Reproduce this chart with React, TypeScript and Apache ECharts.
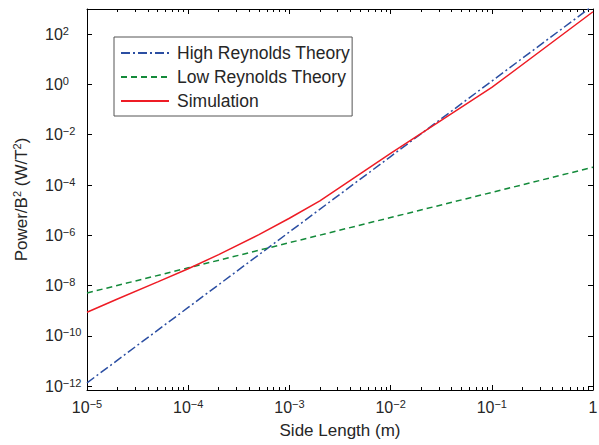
import React, { useEffect, useRef } from 'react';
import * as echarts from 'echarts';

// Side length (m) sampled at each decade for the two theory curves
const theoryLength = [1e-5, 1e-4, 1e-3, 1e-2, 1e-1, 1];
const highReynolds = [1.36e-12, 1.36e-9, 1.36e-6, 1.36e-3, 1.36, 1360];
const lowReynolds = [5.1e-9, 5.1e-8, 5.1e-7, 5.1e-6, 5.1e-5, 5.1e-4];

// Simulation samples
const simLength = [1e-5, 2e-5, 5e-5, 1e-4, 2e-4, 5e-4, 1e-3, 2e-3, 1e-2, 1e-1, 1];
const simPower = [8.7e-10, 2.95e-9, 1.41e-8, 4.68e-8, 1.7e-7, 1.07e-6, 4.79e-6, 2.34e-5, 1.82e-3, 0.76, 776];

// Tick exponents
const xTickExp = [-5, -4, -3, -2, -1, 0];
const yTickExp = [-12, -10, -8, -6, -4, -2, 0, 2];
const minorMultipliers = [2, 3, 4, 5, 6, 7, 8, 9];

const X_MIN = -5;
const X_MAX = 0;
const Y_MIN = -12.15;
const Y_MAX = 3;

const FONT = '"Liberation Sans", Arial, Helvetica, sans-serif';
const TEXT = '#262626';
const MINUS = '\u2212';

const toLogPairs = (xs: number[], ys: number[]) => xs.map((x, i) => [Math.log10(x), Math.log10(ys[i])]);

const powLabel = (n: number) => `{b|10}{s|${n < 0 ? MINUS + Math.abs(n) : n}}`;
const xLabel = (v: number) => {
  const n = Math.round(v);
  return n === 0 ? '{b|1}' : powLabel(n);
};
const yLabel = (v: number) => powLabel(Math.round(v));

const rich = {
  b: { fontSize: 16, lineHeight: 18, fontFamily: FONT, color: TEXT },
  s: { fontSize: 11, lineHeight: 9, fontFamily: FONT, color: TEXT, verticalAlign: 'top' },
};

export default function App() {
  const ref = useRef<HTMLDivElement>(null);
  useEffect(() => {
    if (!ref.current) return;
    const chart = echarts.init(ref.current, undefined, { renderer: 'svg' });
    const minorX: number[] = [];
    for (let n = X_MIN; n < X_MAX; n++) {
      for (const k of minorMultipliers) minorX.push(n + Math.log10(k));
    }
    const axisLine = { show: true, onZero: false, lineStyle: { color: '#000', width: 1 } };
    const baseX = { type: 'value', min: X_MIN, max: X_MAX, splitLine: { show: false } };
    const baseY = { type: 'value', min: Y_MIN, max: Y_MAX, splitLine: { show: false } };
    chart.setOption({
      animation: false,
      backgroundColor: '#fff',
      grid: { left: 87, right: 6, top: 9, bottom: 55, outerBoundsMode: 'none' },
      legend: {
        orient: 'vertical',
        left: 114,
        top: 37,
        padding: [7, 2, 6, 6],
        itemWidth: 48,
        itemHeight: 16,
        itemGap: 6,
        borderColor: '#555',
        borderWidth: 1,
        backgroundColor: '#fff',
        itemStyle: { opacity: 0 },
        textStyle: { fontSize: 17.5, lineHeight: 16, fontFamily: FONT, color: TEXT, padding: [0, 0, 0, 3] },
        data: ['High Reynolds Theory', 'Low Reynolds Theory', 'Simulation'],
      },
      xAxis: [
        {
          ...baseX,
          position: 'bottom',
          axisLine,
          axisTick: { inside: true, length: 5, customValues: xTickExp, lineStyle: { color: '#000' } },
          axisLabel: { customValues: xTickExp, formatter: xLabel, rich, margin: 8 },
          name: 'Side Length (m)',
          nameLocation: 'middle',
          nameGap: 32,
          nameTextStyle: { fontSize: 17, fontFamily: FONT, color: TEXT },
        },
        {
          ...baseX,
          position: 'bottom',
          axisLine: { show: false, onZero: false },
          axisTick: { inside: true, length: 3, customValues: minorX, lineStyle: { color: '#000' } },
          axisLabel: { show: false },
        },
        {
          ...baseX,
          position: 'top',
          axisLine,
          axisTick: { inside: true, length: 5, customValues: xTickExp, lineStyle: { color: '#000' } },
          axisLabel: { show: false },
        },
        {
          ...baseX,
          position: 'top',
          axisLine: { show: false, onZero: false },
          axisTick: { inside: true, length: 3, customValues: minorX, lineStyle: { color: '#000' } },
          axisLabel: { show: false },
        },
      ],
      yAxis: [
        {
          ...baseY,
          position: 'left',
          axisLine,
          axisTick: { inside: true, length: 5, customValues: yTickExp, lineStyle: { color: '#000' } },
          axisLabel: { customValues: yTickExp, formatter: yLabel, rich, margin: 42, align: 'left' },
          name: '{t|Power/B}{s|2}{t| (W/T}{s|2}{t|)}',
          nameLocation: 'middle',
          nameRotate: 90,
          nameGap: 56,
          nameTextStyle: {
            rich: {
              t: { fontSize: 17, lineHeight: 20, fontFamily: FONT, color: TEXT },
              s: { fontSize: 11, lineHeight: 10, fontFamily: FONT, color: TEXT, verticalAlign: 'top' },
            },
          },
        },
        {
          ...baseY,
          position: 'right',
          axisLine,
          axisTick: { inside: true, length: 5, customValues: yTickExp, lineStyle: { color: '#000' } },
          axisLabel: { show: false },
        },
      ],
      series: [
        {
          name: 'High Reynolds Theory',
          type: 'line',
          symbol: 'none',
          data: toLogPairs(theoryLength, highReynolds),
          lineStyle: { color: '#2b4ea2', width: 1.5, type: [9, 3, 2, 3] },
          itemStyle: { color: '#2b4ea2' },
        },
        {
          name: 'Low Reynolds Theory',
          type: 'line',
          symbol: 'none',
          data: toLogPairs(theoryLength, lowReynolds),
          lineStyle: { color: '#138a3a', width: 1.5, type: [6, 4] },
          itemStyle: { color: '#138a3a' },
        },
        {
          name: 'Simulation',
          type: 'line',
          symbol: 'none',
          data: toLogPairs(simLength, simPower),
          lineStyle: { color: '#ee1c25', width: 1.5 },
          itemStyle: { color: '#ee1c25' },
        },
      ],
    });
    return () => chart.dispose();
  }, []);
  return <div ref={ref} style={{ position: 'absolute', left: 0, top: 0, width: 599, height: 445 }} />;
}
